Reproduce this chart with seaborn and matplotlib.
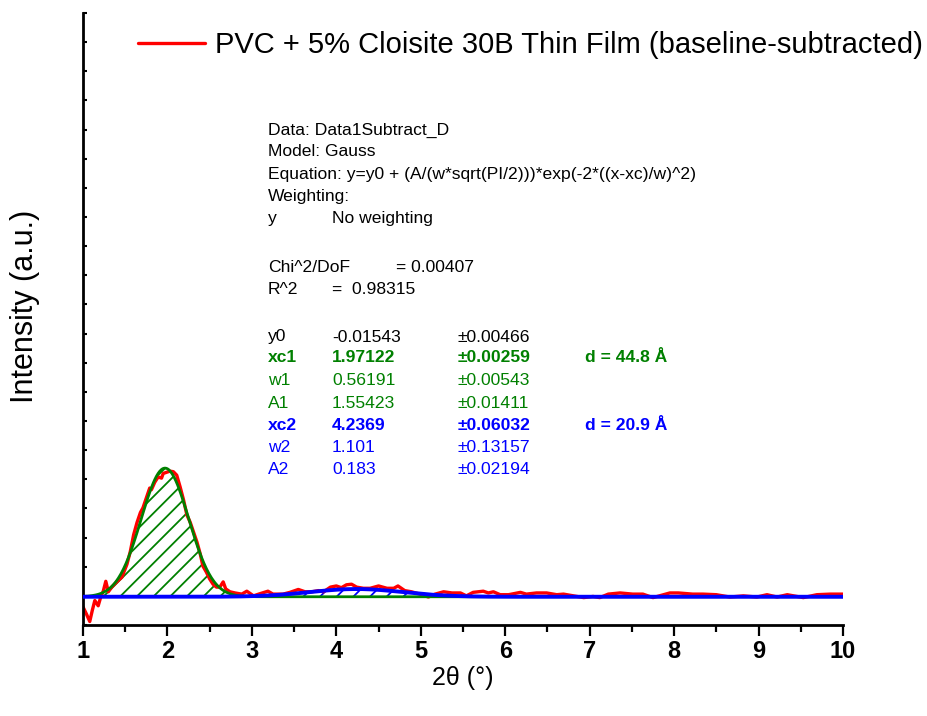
import numpy as np
import pandas as pd
import matplotlib
matplotlib.use("Agg")
import matplotlib.pyplot as plt
import seaborn as sns

# ---- data ----
two_theta = [1.00, 1.04, 1.08, 1.11, 1.14, 1.18, 1.21, 1.24, 1.27, 1.30, 1.34, 1.40, 1.46, 1.52,
             1.56, 1.60, 1.64, 1.68, 1.71, 1.75, 1.79, 1.81, 1.85, 1.89, 1.93, 1.95, 1.99, 2.03,
             2.07, 2.11, 2.15, 2.19, 2.23, 2.27, 2.31, 2.35, 2.39, 2.42, 2.46, 2.50, 2.54, 2.58,
             2.62, 2.66, 2.69, 2.74, 2.80, 2.88, 2.94, 3.02, 3.08, 3.19, 3.25, 3.37, 3.45, 3.55,
             3.63, 3.71, 3.79, 3.85, 3.93, 4.00, 4.06, 4.12, 4.18, 4.24, 4.32, 4.40, 4.50, 4.60,
             4.68, 4.73, 4.81, 4.89, 4.99, 5.09, 5.17, 5.27, 5.37, 5.47, 5.54, 5.62, 5.74, 5.80,
             5.86, 5.94, 6.04, 6.18, 6.25, 6.37, 6.49, 6.61, 6.69, 6.81, 6.93, 7.04, 7.12, 7.22,
             7.36, 7.51, 7.63, 7.75, 7.95, 8.05, 8.22, 8.34, 8.50, 8.66, 8.82, 8.98, 9.10, 9.22,
             9.34, 9.53, 9.69, 9.85, 10.00]
intensity = [-0.19, -0.31, -0.44, -0.25, -0.08, -0.17, -0.02, 0.08, 0.25, 0.07, 0.15, 0.24, 0.32, 0.54,
             0.76, 1.05, 1.26, 1.43, 1.51, 1.68, 1.85, 1.82, 1.95, 2.04, 2.02, 2.10, 2.12, 2.14,
             2.13, 2.07, 1.87, 1.65, 1.39, 1.26, 1.09, 0.92, 0.71, 0.51, 0.41, 0.29, 0.20, 0.15,
             0.15, 0.24, 0.12, 0.07, 0.05, 0.03, 0.08, 0.00, 0.03, 0.08, 0.03, 0.03, 0.06, 0.11,
             0.07, 0.07, 0.09, 0.07, 0.15, 0.17, 0.14, 0.19, 0.20, 0.15, 0.13, 0.13, 0.17, 0.13,
             0.13, 0.17, 0.09, 0.07, 0.03, -0.02, 0.03, 0.07, 0.05, 0.05, 0.00, 0.06, 0.08, 0.05,
             0.07, 0.02, 0.02, 0.06, 0.03, 0.05, 0.05, 0.02, 0.03, 0.00, -0.03, -0.01, -0.03, 0.03,
             0.05, 0.03, 0.03, -0.03, 0.05, 0.05, 0.03, 0.03, 0.02, -0.02, 0.00, -0.02, 0.02, -0.02,
             0.02, -0.03, 0.02, 0.03, 0.03]

# fit parameters shown in the chart
y0 = -0.01543
xc1, w1, A1 = 1.97122, 0.56191, 1.55423
xc2, w2, A2 = 4.2369, 1.101, 0.183

x_ticks = [1, 2, 3, 4, 5, 6, 7, 8, 9, 10]
legend_label = "PVC + 5% Cloisite 30B Thin Film (baseline-subtracted)"

# ---- styling ----
sns.set_theme(style="ticks")
plt.rcParams['font.family'] = ['Liberation Sans', 'DejaVu Sans']
plt.rcParams['hatch.linewidth'] = 1.3
for k in ['text.color', 'axes.labelcolor', 'xtick.color', 'ytick.color', 'axes.edgecolor']:
    plt.rcParams[k] = 'black'

fig = plt.figure(figsize=(9.28, 7.16), dpi=100)
ax = fig.add_axes([83/928, 1 - 625/716, (843-83)/928, (625-13)/716])

df = pd.DataFrame({"x": two_theta, "y": intensity})
sns.lineplot(data=df, x="x", y="y", ax=ax, color="#FF0000", lw=2.4, zorder=2,
             sort=False, label=legend_label)
red_handle = ax.lines[0]

# Gauss model curves (from the displayed fit parameters)
xf = np.linspace(1, 10, 901)
g1 = y0 + A1 / (w1 * np.sqrt(np.pi / 2)) * np.exp(-2 * ((xf - xc1) / w1) ** 2)
g2 = y0 + A2 / (w2 * np.sqrt(np.pi / 2)) * np.exp(-2 * ((xf - xc2) / w2) ** 2)
fit = pd.DataFrame({"x": xf, "g1": g1, "g2": g2})

ax.fill_between(xf, y0, g1, facecolor='none', edgecolor='#008000', hatch='//', linewidth=0, zorder=1)
ax.fill_between(xf, y0, g2, facecolor='none', edgecolor='#0000FF', hatch='//', linewidth=0, zorder=1)
sns.lineplot(data=fit, x="x", y="g1", ax=ax, color="#008000", lw=2.0, zorder=3, legend=False)
sns.lineplot(data=fit, x="x", y="g2", ax=ax, color="#0000FF", lw=2.8, zorder=4, legend=False)
if ax.get_legend() is not None:
    ax.get_legend().remove()

ax.set_xlim(1, 10)
ax.set_ylim(-0.5, 10)
ax.set_xticks(x_ticks)
ax.set_xticks(np.arange(1.5, 10, 1.0), minor=True)
ax.set_xticklabels([str(t) for t in x_ticks], fontsize=17, fontweight='bold')
ax.set_yticks(np.arange(-0.5, 10.01, 0.5))
ax.set_yticklabels([])
ax.tick_params(axis='x', which='major', direction='out', length=8, width=1.6, pad=3)
ax.tick_params(axis='x', which='minor', direction='out', length=5, width=1.6)
ax.tick_params(axis='y', which='major', direction='in', length=3, width=1.5)
for s in ['top', 'right']:
    ax.spines[s].set_visible(False)
for s in ['left', 'bottom']:
    ax.spines[s].set_linewidth(2.0)
    ax.spines[s].set_color('black')

ax.set_xlabel("2θ (°)", fontsize=18, labelpad=2)
ax.set_ylabel("Intensity (a.u.)", fontsize=22)
ax.yaxis.set_label_coords((40 - 83) / 760, (625 - 306) / 612)

fig.legend([red_handle], [legend_label], loc='center left', bbox_to_anchor=(138/928, 1 - 45/716),
           frameon=False, fontsize=21, handlelength=2.3, handletextpad=0.34,
           borderpad=0, borderaxespad=0)

# fit report text
def T(x, y, s, color='black', weight='normal'):
    fig.text(x/928, 1 - y/716, s, fontsize=12.6, color=color, fontweight=weight, va='center', ha='left')

T(268, 130, "Data: Data1Subtract_D")
T(268, 152, "Model: Gauss")
T(268, 174, "Equation: y=y0 + (A/(w*sqrt(PI/2)))*exp(-2*((x-xc)/w)^2)")
T(268, 196, "Weighting:")
T(268, 218, "y")
T(332, 218, "No weighting")
T(268, 267, "Chi^2/DoF")
T(396, 267, "= 0.00407")
T(268, 289, "R^2")
T(332, 289, "=  0.98315")

rows = [("y0", "-0.01543", "±0.00466", "", 'black', 'normal'),
        ("xc1", "1.97122", "±0.00259", "d = 44.8 Å", '#008000', 'bold'),
        ("w1", "0.56191", "±0.00543", "", '#008000', 'normal'),
        ("A1", "1.55423", "±0.01411", "", '#008000', 'normal'),
        ("xc2", "4.2369", "±0.06032", "d = 20.9 Å", '#0000FF', 'bold'),
        ("w2", "1.101", "±0.13157", "", '#0000FF', 'normal'),
        ("A2", "0.183", "±0.02194", "", '#0000FF', 'normal')]
ys = [337, 358, 380, 403, 425, 448, 470]
for (a, b, c, d, col, wt), yy in zip(rows, ys):
    T(268, yy, a, col, wt)
    T(332, yy, b, col, wt)
    T(458, yy, c, col, wt)
    if d:
        T(585, yy, d, col, wt)

fig.savefig("out.png", dpi=100)
